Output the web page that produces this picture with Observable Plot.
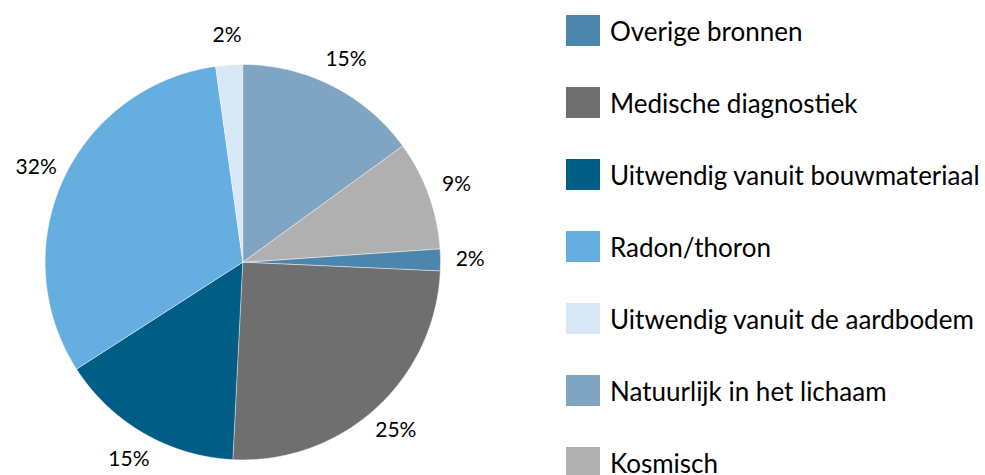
<!DOCTYPE html>
<html>
<head>
<meta charset="utf-8">
<script src="https://cdn.jsdelivr.net/npm/d3@7"></script>
<script src="https://cdn.jsdelivr.net/npm/@observablehq/plot@0.6"></script>
<style>
  html, body { margin: 0; padding: 0; background: #fff; }
  #wrap { position: relative; width: 985px; height: 475px; overflow: hidden; }
  #chart { position: absolute; left: 0; top: 0; }
  #legend { position: absolute; left: 566px; top: -5.5px; }
  #legend [class$="-swatches"] { margin: 0 !important; }
  #legend [class$="-swatch"] { height: 72px; padding: 0 !important; display: flex; align-items: center; }
  #legend [class$="-swatch"] > svg { margin-right: 10px !important; }
  #legend [class$="-swatch-label"] { white-space: nowrap; color: #000; }
</style>
</head>
<body>
<div id="wrap"><div id="chart"></div><div id="legend"></div></div>
<script>
// Categories in legend / data order (clockwise, first slice starts just right of 3 o'clock)
const categories = [
  "Overige bronnen",
  "Medische diagnostiek",
  "Uitwendig vanuit bouwmateriaal",
  "Radon/thoron",
  "Uitwendig vanuit de aardbodem",
  "Natuurlijk in het lichaam",
  "Kosmisch"
];
// Shares in percent
const values = [1.8, 25.1, 15.1, 31.9, 2.2, 15.0, 8.9];
// Data labels as printed
const labels = ["2%", "25%", "15%", "32%", "2%", "15%", "9%"];
const colors = ["#4d86ad", "#6f6f6f", "#005d85", "#66aee0", "#d8e8f7", "#80a5c3", "#b0b0b0"];

// Layout
const W = 985, H = 475, cx = 242.3, cy = 261.7, R = 197.7, labelR = 1.15;
const font = "Lato, 'Open Sans', sans-serif";

const total = d3.sum(values);
// slices before "Overige" in clockwise order from 12 o'clock are Natuurlijk & Kosmisch
const startDeg = (values[5] + values[6]) / total * 360;
let acc = startDeg;
const slices = categories.map((name, i) => {
  const a0 = acc, a1 = acc + values[i] / total * 360;
  acc = a1;
  return {name, value: values[i], label: labels[i], a0, a1, mid: (a0 + a1) / 2};
});

const rad = (d) => d * Math.PI / 180;
const polyPoints = [];
for (const s of slices) {
  polyPoints.push({name: s.name, x: 0, y: 0});
  const n = Math.max(2, Math.ceil((s.a1 - s.a0) / 0.5));
  for (let k = 0; k <= n; k++) {
    const a = rad(s.a0 + (s.a1 - s.a0) * k / n);
    polyPoints.push({name: s.name, x: Math.sin(a), y: Math.cos(a)});
  }
}
const labelPoints = slices.map(s => ({
  label: s.label,
  x: labelR * Math.sin(rad(s.mid)),
  y: labelR * Math.cos(rad(s.mid))
}));

const colorScale = {type: "ordinal", domain: categories, range: colors};

const chart = Plot.plot({
  width: W,
  height: H,
  margin: 0,
  style: {fontFamily: font, background: "transparent"},
  x: {domain: [-1, 1], range: [cx - R, cx + R], axis: null},
  y: {domain: [-1, 1], range: [cy + R, cy - R], axis: null},
  color: colorScale,
  marks: [
    Plot.line(polyPoints, {x: "x", y: "y", z: "name", fill: "name", stroke: "#ffffff", strokeWidth: 0.6, strokeOpacity: 0.8, curve: "linear-closed"}),
    Plot.text(labelPoints, {x: "x", y: "y", text: "label", fontSize: 21, fill: "#000", textAnchor: "middle", lineAnchor: "middle"})
  ]
});
document.getElementById("chart").appendChild(chart);

const legend = Plot.legend({
  color: colorScale,
  legend: "swatches",
  columns: 1,
  swatchWidth: 34,
  swatchHeight: 31,
  style: {fontFamily: font, fontSize: "26px", color: "#000"}
});
document.getElementById("legend").appendChild(legend);
</script>
</body>
</html>
